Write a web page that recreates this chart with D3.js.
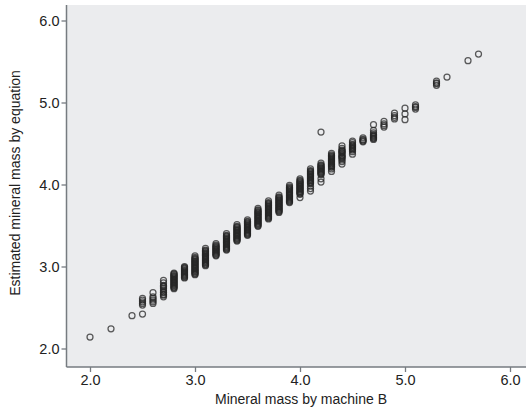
<!DOCTYPE html>
<html>
<head>
<meta charset="utf-8">
<script src="https://cdn.jsdelivr.net/npm/d3@7"></script>
<style>
  html, body { margin: 0; padding: 0; background: #ffffff; }
  svg { display: block; font-family: "Liberation Sans", Arial, sans-serif; }
</style>
</head>
<body>
<svg id="chart" width="526" height="415"></svg>
<script>
// ---- data ----
const xTitle = "Mineral mass by machine B";
const yTitle = "Estimated mineral mass by equation";
const xTicks = [2.0, 3.0, 4.0, 5.0, 6.0];
const yTicks = [2.0, 3.0, 4.0, 5.0, 6.0];

// x values of each column of observations (machine B)
const machineB = [2.0, 2.2, 2.4, 2.5, 2.6, 2.7, 2.8, 2.9, 3.0, 3.1, 3.2, 3.3, 3.4, 3.5, 3.6, 3.7,
                  3.8, 3.9, 4.0, 4.1, 4.2, 4.3, 4.4, 4.5, 4.6, 4.7, 4.8, 4.9, 5.0, 5.1, 5.3, 5.4, 5.6, 5.7];
// estimated values observed at each machine B value
const estimated = [
  [2.14],
  [2.24],
  [2.40],
  [2.42, 2.53, 2.55, 2.57, 2.59, 2.61],
  [2.55, 2.57, 2.59, 2.61, 2.63, 2.68],
  [2.63, 2.65, 2.66, 2.68, 2.69, 2.71, 2.73, 2.75, 2.76, 2.77, 2.80, 2.83],
  [2.73, 2.74, 2.75, 2.76, 2.77, 2.78, 2.79, 2.80, 2.81, 2.82, 2.83, 2.84, 2.85, 2.86, 2.87, 2.88, 2.89, 2.90, 2.91, 2.92],
  [2.86, 2.87, 2.88, 2.89, 2.90, 2.91, 2.92, 2.93, 2.94, 2.95, 2.96, 2.97, 2.98, 2.99, 3.00],
  [2.90, 2.91, 2.92, 2.93, 2.94, 2.95, 2.96, 2.97, 2.98, 2.99, 3.00, 3.01, 3.02, 3.03, 3.04, 3.05, 3.06, 3.07, 3.08, 3.09, 3.10, 3.11, 3.13],
  [3.01, 3.02, 3.03, 3.04, 3.05, 3.06, 3.07, 3.08, 3.09, 3.10, 3.11, 3.12, 3.13, 3.14, 3.15, 3.16, 3.17, 3.18, 3.19, 3.20, 3.22],
  [3.13, 3.14, 3.15, 3.16, 3.17, 3.18, 3.19, 3.20, 3.21, 3.22, 3.23, 3.24, 3.25, 3.26, 3.28],
  [3.20, 3.21, 3.22, 3.23, 3.24, 3.25, 3.26, 3.27, 3.28, 3.29, 3.30, 3.31, 3.32, 3.33, 3.34, 3.35, 3.36, 3.37, 3.38, 3.40],
  [3.31, 3.32, 3.33, 3.34, 3.35, 3.36, 3.37, 3.38, 3.39, 3.40, 3.41, 3.42, 3.43, 3.44, 3.45, 3.46, 3.47, 3.48, 3.49, 3.51],
  [3.38, 3.39, 3.40, 3.41, 3.42, 3.43, 3.44, 3.45, 3.46, 3.47, 3.48, 3.49, 3.50, 3.51, 3.52, 3.53, 3.54, 3.55, 3.57],
  [3.49, 3.50, 3.51, 3.52, 3.53, 3.54, 3.55, 3.56, 3.57, 3.58, 3.59, 3.60, 3.61, 3.62, 3.63, 3.64, 3.65, 3.66, 3.67, 3.68, 3.69, 3.71],
  [3.58, 3.59, 3.60, 3.61, 3.62, 3.63, 3.64, 3.65, 3.66, 3.67, 3.68, 3.69, 3.70, 3.71, 3.72, 3.73, 3.74, 3.75, 3.76, 3.77, 3.78, 3.80],
  [3.66, 3.67, 3.68, 3.69, 3.70, 3.71, 3.72, 3.73, 3.74, 3.75, 3.76, 3.77, 3.78, 3.79, 3.80, 3.81, 3.82, 3.83, 3.84, 3.85, 3.87],
  [3.78, 3.79, 3.80, 3.81, 3.82, 3.83, 3.84, 3.85, 3.86, 3.87, 3.88, 3.89, 3.90, 3.91, 3.92, 3.93, 3.94, 3.95, 3.96, 3.97, 3.99],
  [3.84, 3.88, 3.89, 3.90, 3.91, 3.92, 3.93, 3.94, 3.95, 3.96, 3.97, 3.98, 3.99, 4.00, 4.01, 4.02, 4.03, 4.04, 4.05, 4.07],
  [3.92, 3.95, 3.98, 4.01, 4.02, 4.03, 4.04, 4.05, 4.06, 4.07, 4.08, 4.09, 4.10, 4.11, 4.12, 4.13, 4.14, 4.15, 4.16, 4.17, 4.19],
  [4.03, 4.07, 4.12, 4.13, 4.14, 4.15, 4.16, 4.17, 4.18, 4.19, 4.20, 4.21, 4.22, 4.23, 4.24, 4.26, 4.64],
  [4.16, 4.19, 4.21, 4.22, 4.23, 4.24, 4.25, 4.26, 4.27, 4.28, 4.29, 4.30, 4.31, 4.32, 4.33, 4.34, 4.35, 4.36, 4.38],
  [4.25, 4.28, 4.30, 4.32, 4.33, 4.34, 4.35, 4.36, 4.38, 4.39, 4.40, 4.41, 4.42, 4.44, 4.47],
  [4.37, 4.40, 4.42, 4.43, 4.44, 4.45, 4.46, 4.47, 4.48, 4.49, 4.51, 4.53],
  [4.52, 4.53, 4.54, 4.55, 4.57],
  [4.55, 4.56, 4.57, 4.58, 4.59, 4.60, 4.61, 4.63, 4.66, 4.73],
  [4.70, 4.72, 4.74, 4.77],
  [4.80, 4.82, 4.84, 4.87],
  [4.79, 4.86, 4.93],
  [4.92, 4.94, 4.95, 4.97],
  [5.21, 5.23, 5.24, 5.26],
  [5.31],
  [5.51],
  [5.59]
];

// ---- layout ----
const svg = d3.select("#chart");
const plot = { left: 66.5, right: 526, top: 5, bottom: 367 };
const x = d3.scaleLinear().domain([2, 6]).range([90, 510]);
const y = d3.scaleLinear().domain([2, 6]).range([348.5, 20.5]);

const axisColor = "#767b80";
const textColor = "#222222";

// background
svg.append("rect")
  .attr("x", plot.left).attr("y", plot.top)
  .attr("width", plot.right - plot.left).attr("height", plot.bottom - plot.top)
  .attr("fill", "#ebecee");

// points
const points = [];
machineB.forEach((xv, i) => estimated[i].forEach(yv => points.push([xv, yv])));
svg.append("g")
  .selectAll("circle")
  .data(points)
  .join("circle")
  .attr("cx", d => x(d[0]))
  .attr("cy", d => y(d[1]))
  .attr("r", 3)
  .attr("fill", "none")
  .attr("stroke", "#262626")
  .attr("stroke-opacity", 0.75)
  .attr("stroke-width", 1.25);

// axes
const xAxis = svg.append("g")
  .attr("transform", `translate(0,${plot.bottom})`)
  .call(d3.axisBottom(x).tickValues(xTicks).tickFormat(d3.format(".1f")).tickSize(5).tickPadding(3));
const yAxis = svg.append("g")
  .attr("transform", `translate(${plot.left},0)`)
  .call(d3.axisLeft(y).tickValues(yTicks).tickFormat(d3.format(".1f")).tickSize(5).tickPadding(2));

[xAxis, yAxis].forEach(g => {
  g.select(".domain").remove();
  g.selectAll(".tick line").attr("stroke", axisColor).attr("stroke-width", 1.3);
  g.selectAll(".tick text").attr("fill", textColor).attr("font-size", 14.5)
    .attr("font-family", "'Liberation Sans', Arial, sans-serif");
});

// axis lines
svg.append("line")
  .attr("x1", plot.left).attr("x2", plot.right)
  .attr("y1", plot.bottom).attr("y2", plot.bottom)
  .attr("stroke", axisColor).attr("stroke-width", 1.5);
svg.append("line")
  .attr("x1", plot.left).attr("x2", plot.left)
  .attr("y1", plot.top).attr("y2", plot.bottom)
  .attr("stroke", axisColor).attr("stroke-width", 1.5);

// titles
svg.append("text")
  .attr("x", (x(2) + x(6)) / 2 + 1)
  .attr("y", 404)
  .attr("text-anchor", "middle")
  .attr("font-size", 14)
  .attr("fill", textColor)
  .text(xTitle);

svg.append("text")
  .attr("transform", `translate(20,${(plot.top + plot.bottom) / 2 - 3}) rotate(-90)`)
  .attr("text-anchor", "middle")
  .attr("font-size", 14)
  .attr("fill", textColor)
  .text(yTitle);
</script>
</body>
</html>
